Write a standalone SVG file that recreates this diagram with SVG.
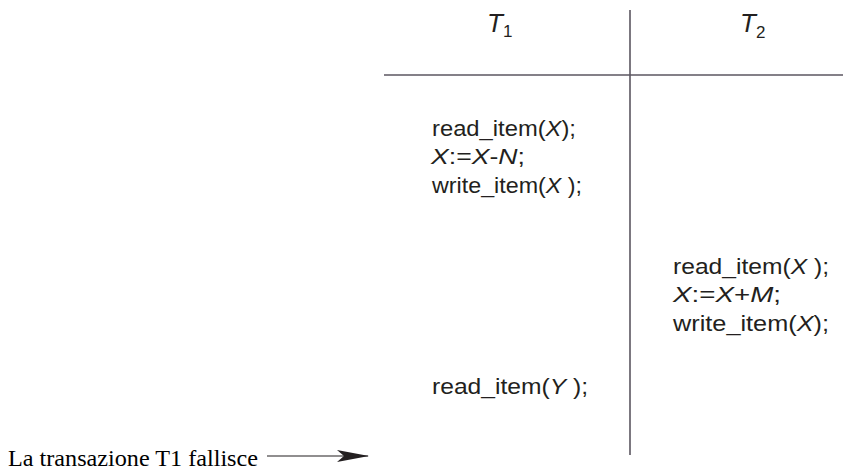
<svg xmlns="http://www.w3.org/2000/svg" width="843" height="471" viewBox="0 0 843 471">
<style>
.code{font-family:"Liberation Sans",Arial,sans-serif;font-size:22px;fill:#231f20}
.it{font-style:italic}
.hd{font-family:"Liberation Sans",Arial,sans-serif;font-size:26px;fill:#231f20}
.sub{font-size:17px}
.cap{font-family:"Liberation Serif","Times New Roman",serif;font-size:24px;fill:#000}
.rule{stroke:#5b5660;stroke-width:1.6;fill:none}
</style>
<defs>
<marker id="ah" viewBox="0 0 32 12" refX="31" refY="6" markerWidth="32" markerHeight="12" markerUnits="userSpaceOnUse" orient="auto">
<path d="M0,0 L32,6 L0,12 L7,6 Z" fill="#231f20"/>
</marker>
</defs>
<rect width="843" height="471" fill="#fff"/>
<g id="grid">
<line class="rule" x1="630" y1="10" x2="630" y2="455"/>
<line class="rule" x1="384" y1="75" x2="843" y2="75"/>
</g>
<g id="header-t1"><text class="hd" x="487" y="32"><tspan class="it">T</tspan><tspan class="sub" dy="5">1</tspan></text></g>
<g id="header-t2"><text class="hd" x="740" y="32"><tspan class="it">T</tspan><tspan class="sub" dy="6">2</tspan></text></g>
<g id="t1-ops1">
<text class="code" x="432" y="136" textLength="144" lengthAdjust="spacingAndGlyphs">read_item(<tspan class="it">X</tspan>);</text>
<text class="code" x="431" y="164" textLength="94" lengthAdjust="spacingAndGlyphs"><tspan class="it">X</tspan>:=<tspan class="it">X</tspan>-<tspan class="it">N</tspan>;</text>
<text class="code" x="432" y="193" textLength="150" lengthAdjust="spacingAndGlyphs">write_item(<tspan class="it">X</tspan> );</text>
</g>
<g id="t2-ops">
<text class="code" x="673" y="274" textLength="156" lengthAdjust="spacingAndGlyphs">read_item(<tspan class="it">X</tspan> );</text>
<text class="code" x="673" y="302" textLength="108" lengthAdjust="spacingAndGlyphs"><tspan class="it">X</tspan>:=<tspan class="it">X</tspan>+<tspan class="it">M</tspan>;</text>
<text class="code" x="673" y="331" textLength="156" lengthAdjust="spacingAndGlyphs">write_item(<tspan class="it">X</tspan>);</text>
</g>
<g id="t1-ops2">
<text class="code" x="432" y="394" textLength="156" lengthAdjust="spacingAndGlyphs">read_item(<tspan class="it">Y</tspan> );</text>
</g>
<g id="fail-label"><text class="cap" x="8" y="466" textLength="250" lengthAdjust="spacingAndGlyphs">La transazione T1 fallisce</text></g>
<g id="connectors">
<line x1="267" y1="456" x2="368" y2="456" stroke="#231f20" stroke-width="1.2" marker-end="url(#ah)"/>
</g>
</svg>
